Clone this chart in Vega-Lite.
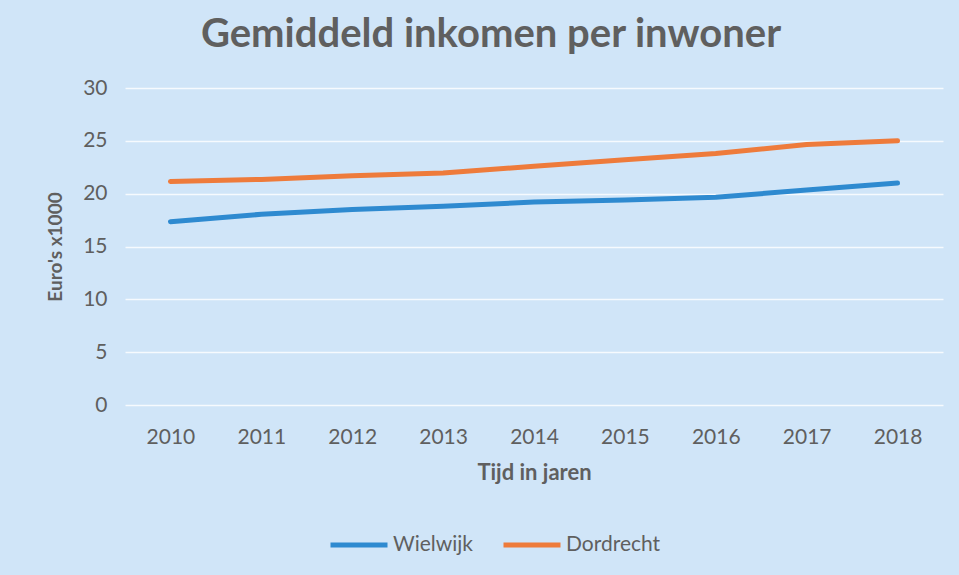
{
  "$schema": "https://vega.github.io/schema/vega-lite/v6.json",
  "width": 818,
  "height": 317,
  "autosize": {"type": "none"},
  "padding": {"left": 125, "top": 88, "right": 16, "bottom": 170},
  "background": "#d0e5f8",
  "title": {
    "text": "Gemiddeld inkomen per inwoner",
    "font": "Lato",
    "fontSize": 40,
    "fontWeight": "bold",
    "color": "#5f5f5f",
    "anchor": "middle",
    "dx": -43,
    "offset": 22
  },
  "data": {
    "values": [
      {"jaar": "2010", "plaats": "Wielwijk", "inkomen": 17.35},
      {"jaar": "2011", "plaats": "Wielwijk", "inkomen": 18.05},
      {"jaar": "2012", "plaats": "Wielwijk", "inkomen": 18.5},
      {"jaar": "2013", "plaats": "Wielwijk", "inkomen": 18.8},
      {"jaar": "2014", "plaats": "Wielwijk", "inkomen": 19.2},
      {"jaar": "2015", "plaats": "Wielwijk", "inkomen": 19.4},
      {"jaar": "2016", "plaats": "Wielwijk", "inkomen": 19.65},
      {"jaar": "2017", "plaats": "Wielwijk", "inkomen": 20.35},
      {"jaar": "2018", "plaats": "Wielwijk", "inkomen": 21.0},
      {"jaar": "2010", "plaats": "Dordrecht", "inkomen": 21.15},
      {"jaar": "2011", "plaats": "Dordrecht", "inkomen": 21.35},
      {"jaar": "2012", "plaats": "Dordrecht", "inkomen": 21.7},
      {"jaar": "2013", "plaats": "Dordrecht", "inkomen": 21.95},
      {"jaar": "2014", "plaats": "Dordrecht", "inkomen": 22.6},
      {"jaar": "2015", "plaats": "Dordrecht", "inkomen": 23.2},
      {"jaar": "2016", "plaats": "Dordrecht", "inkomen": 23.8},
      {"jaar": "2017", "plaats": "Dordrecht", "inkomen": 24.65},
      {"jaar": "2018", "plaats": "Dordrecht", "inkomen": 25.0}
    ]
  },
  "mark": {"type": "line", "strokeWidth": 5, "strokeCap": "round", "strokeJoin": "round"},
  "encoding": {
    "x": {
      "field": "jaar",
      "type": "ordinal",
      "scale": {"type": "point", "padding": 0.5},
      "axis": {
        "title": "Tijd in jaren",
        "labelAngle": 0,
        "labelFont": "Lato",
        "labelFontSize": 21,
        "labelColor": "#5f5f5f",
        "labelPadding": 21,
        "titleFont": "Lato",
        "titleFontSize": 22,
        "titleFontWeight": "bold",
        "titleColor": "#5f5f5f",
        "titlePadding": 15,
        "domain": false,
        "ticks": false,
        "grid": false
      }
    },
    "y": {
      "field": "inkomen",
      "type": "quantitative",
      "scale": {"domain": [0, 30]},
      "axis": {
        "title": "Euro's x1000",
        "values": [0, 5, 10, 15, 20, 25, 30],
        "labelFont": "Lato",
        "labelFontSize": 21,
        "labelColor": "#5f5f5f",
        "labelPadding": 18,
        "titleFont": "Lato",
        "titleFontSize": 19,
        "titleFontWeight": "bold",
        "titleColor": "#5f5f5f",
        "titlePadding": 17,
        "domain": false,
        "ticks": false,
        "grid": true,
        "gridColor": "#ffffff",
        "gridWidth": 1.5,
        "gridOpacity": 0.8
      }
    },
    "color": {
      "field": "plaats",
      "type": "nominal",
      "scale": {"domain": ["Wielwijk", "Dordrecht"], "range": ["#2e8ad0", "#ee7b3b"]},
      "legend": {
        "title": null,
        "orient": "none",
        "direction": "horizontal",
        "legendX": 203,
        "legendY": 426,
        "symbolType": "stroke",
        "symbolSize": 3249,
        "symbolStrokeWidth": 5,
        "labelFont": "Lato",
        "labelFontSize": 21,
        "labelColor": "#5f5f5f",
        "labelOffset": 3,
        "columnPadding": 20
      }
    }
  },
  "config": {"view": {"stroke": null}}
}
